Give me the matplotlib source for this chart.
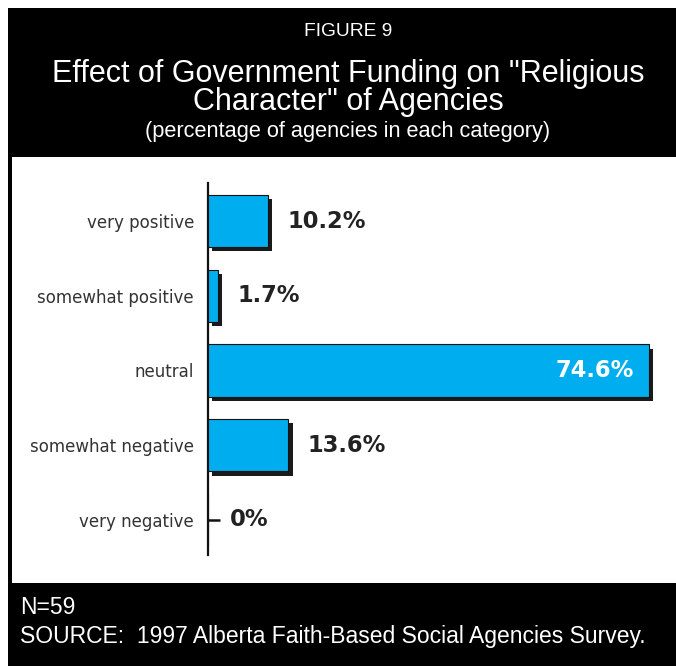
import numpy as np
import matplotlib.pyplot as plt
import matplotlib.patheffects as pe
from matplotlib.patches import Rectangle

# chart data
categories = ['very positive', 'somewhat positive', 'neutral',
              'somewhat negative', 'very negative']
values = [10.2, 1.7, 74.6, 13.6, 0.0]
labels = ['10.2%', '1.7%', '74.6%', '13.6%', '0%']

W, H = 676, 666
fig = plt.figure(figsize=(W / 100, H / 100), dpi=100)
fig.patch.set_facecolor('white')

# black frame and white plotting panel (pixel coords -> figure fraction)
def px(x0, y0, x1, y1):
    return (x0 / W, 1 - y1 / H, (x1 - x0) / W, (y1 - y0) / H)

x, y, w, h = px(8, 8, 676, 666)
fig.patches.append(Rectangle((x, y), w, h, transform=fig.transFigure,
                             facecolor='black', edgecolor='none', zorder=-3))
x, y, w, h = px(12, 157, 676, 583)
fig.patches.append(Rectangle((x, y), w, h, transform=fig.transFigure,
                             facecolor='white', edgecolor='none', zorder=-2))

hfont = 'Liberation Sans'
cx = 348 / W
fig.text(cx, 1 - 32 / H, 'FIGURE 9', color='white', ha='center', va='center',
         fontsize=13.8, family=hfont)
fig.text(cx, 1 - 88 / H, 'Effect of Government Funding on "Religious\nCharacter" of Agencies',
         color='white', ha='center', va='center', fontsize=22, family=hfont,
         linespacing=0.95)
fig.text(cx, 1 - 131 / H, '(percentage of agencies in each category)', color='white',
         ha='center', va='center', fontsize=15.7, family=hfont)
fig.text(20 / W, 1 - 607 / H, 'N=59', color='white', ha='left', va='center',
         fontsize=16.5, family=hfont)
fig.text(20 / W, 1 - 637 / H, 'SOURCE:  1997 Alberta Faith-Based Social Agencies Survey.',
         color='white', ha='left', va='center', fontsize=16.5, family=hfont)

# axes
ax = fig.add_axes(px(208, 183, 664, 555))
ax.set_facecolor('none')
pos = np.arange(len(categories))
bars = ax.barh(pos, values, height=0.7, color='#00adee', edgecolor='#111111',
               linewidth=0.8, zorder=3)
for b in bars:
    b.set_path_effects([pe.SimplePatchShadow(offset=(3, -3), shadow_rgbFace='#1a1a1a',
                                             alpha=1.0), pe.Normal()])

ax.set_xlim(0, 456 / 5.91)
ax.set_ylim(4.47, -0.51)

# zero-value tick mark
zero = [i for i, v in enumerate(values) if v == 0]
ax.plot([values[i] for i in zero], zero, marker=1, markersize=8.5, mew=1.8,
        color='#111111', linestyle='none', zorder=4)

for i, (v, lab) in enumerate(zip(values, labels)):
    if v > 50:
        ax.annotate(lab, (v, i), xytext=(-11, 0), textcoords='offset points',
                    ha='right', va='center', color='white', fontsize=16.3,
                    fontweight='bold')
    else:
        off = 14 if v > 0 else 16
        ax.annotate(lab, (v, i), xytext=(off, 0), textcoords='offset points',
                    ha='left', va='center', color='#222222', fontsize=16.3,
                    fontweight='bold')

ax.set_yticks(pos)
ax.set_yticklabels(categories, fontsize=12, color='#333333')
ax.tick_params(axis='y', length=0, pad=10)
ax.set_xticks([])
for s in ['top', 'right', 'bottom']:
    ax.spines[s].set_visible(False)
ax.spines['left'].set_linewidth(1.6)
ax.spines['left'].set_color('#111111')

fig.savefig('out.png', dpi=100, facecolor=fig.get_facecolor())
